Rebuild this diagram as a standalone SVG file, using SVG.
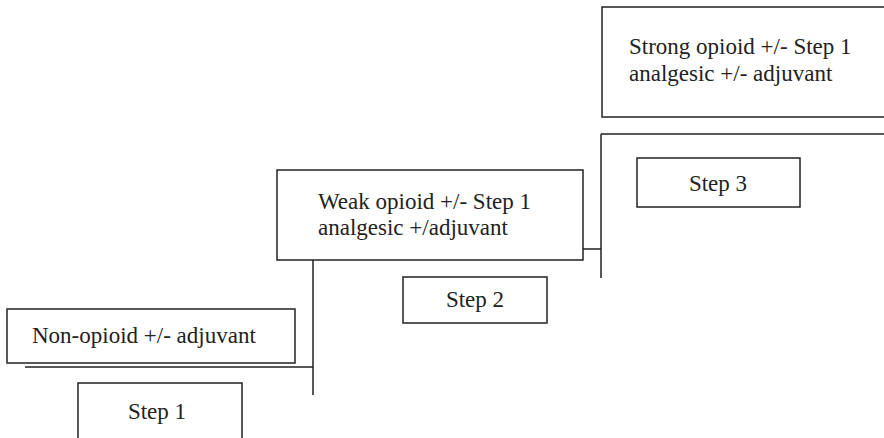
<svg xmlns="http://www.w3.org/2000/svg" width="884" height="438" viewBox="0 0 884 438">
<style>
.box{fill:#fff;stroke:#222;stroke-width:1.5}
.ln{fill:none;stroke:#222;stroke-width:1.5}
.t{font-family:'Times New Roman','Liberation Serif','DejaVu Serif',serif;font-size:23px;fill:#222}
</style>
<rect width="884" height="438" fill="#fff"/>
<g id="connectors">
<path class="ln" d="M25 367H313M313 260V395"/>
<path class="ln" d="M583 249H601M601 134V278M601 134H890"/>
</g>
<g id="non-opioid">
<rect class="box" x="7" y="309" width="288" height="54"/>
<text class="t" x="32" y="343">Non-opioid +/- adjuvant</text>
</g>
<g id="step1">
<rect class="box" x="78" y="383" width="164" height="70"/>
<text class="t" x="157" y="419" text-anchor="middle">Step 1</text>
</g>
<g id="weak-opioid">
<rect class="box" x="277" y="170" width="306" height="90"/>
<text class="t" x="318" y="209">Weak opioid +/- Step 1</text>
<text class="t" x="318" y="235">analgesic +/adjuvant</text>
</g>
<g id="step2">
<rect class="box" x="403" y="277" width="144" height="46"/>
<text class="t" x="475" y="307" text-anchor="middle">Step 2</text>
</g>
<g id="strong-opioid">
<rect class="box" x="602" y="7" width="290" height="110"/>
<text class="t" x="629" y="54">Strong opioid +/- Step 1</text>
<text class="t" x="629" y="81">analgesic +/- adjuvant</text>
</g>
<g id="step3">
<rect class="box" x="637" y="158" width="163" height="49"/>
<text class="t" x="718" y="191" text-anchor="middle">Step 3</text>
</g>
</svg>
